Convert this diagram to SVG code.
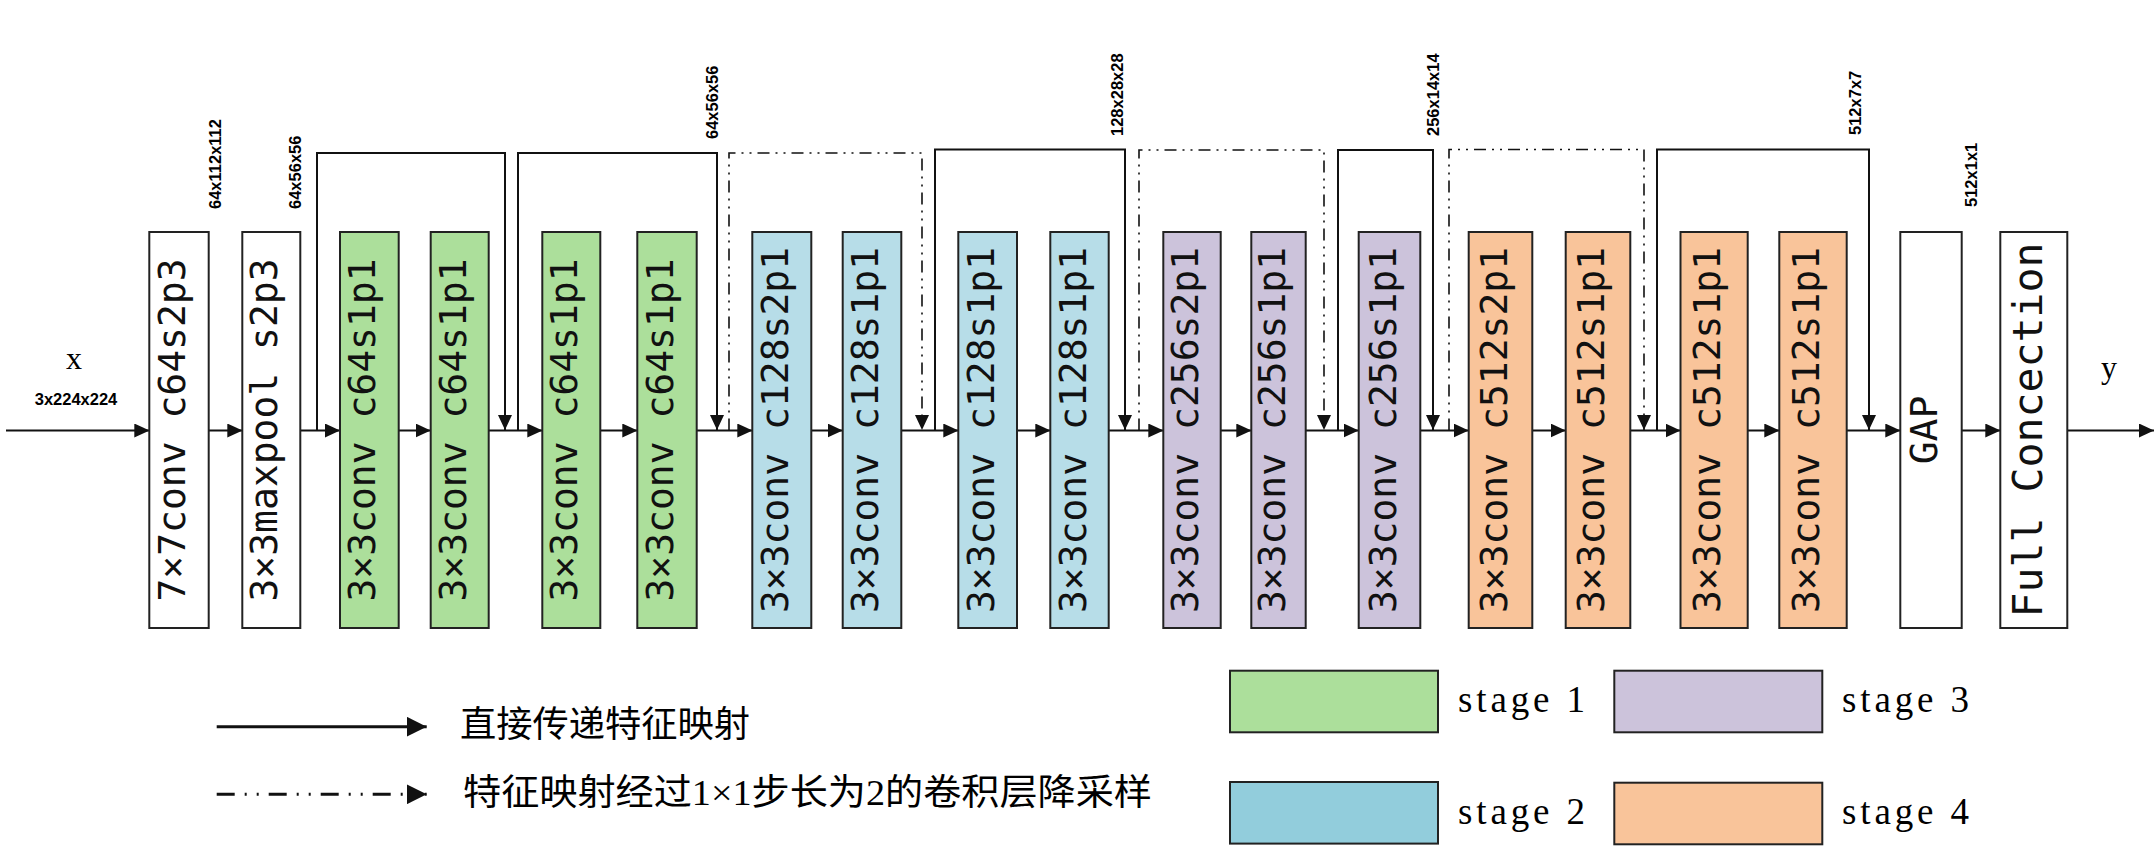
<svg xmlns="http://www.w3.org/2000/svg" width="2156" height="860" viewBox="0 0 2156 860">
<style>
.box{stroke:#222;stroke-width:2}
.w{fill:#fff}.g{fill:#ACDF9B}.b{fill:#B7DDE8}.p{fill:#CCC3DB}.o{fill:#F9C49A}.b2{fill:#92CDDC}
.bt{font-family:"DejaVu Sans Mono",monospace;font-size:38px;fill:#111;text-anchor:middle}
.dim{font-family:"Liberation Sans",Arial,sans-serif;font-weight:bold;font-size:16.5px;fill:#000}
.ln{fill:none;stroke:#111;stroke-width:2}
.ds{fill:none;stroke:#111;stroke-width:1.6;stroke-dasharray:12 6 2 6 2 6}
.io{font-family:"Liberation Serif",serif;font-size:32px;fill:#000;text-anchor:middle}
.cn{font-family:"Liberation Serif","Noto Sans CJK SC",serif;font-size:36px;fill:#000}
.st{font-family:"Liberation Serif",serif;font-size:37px;fill:#000}
</style>
<defs>
<marker id="ah" markerUnits="userSpaceOnUse" markerWidth="15" markerHeight="14" refX="15" refY="7" orient="auto"><path d="M0,0 L15,7 L0,14 z" fill="#111"/></marker>
<marker id="ahL" markerUnits="userSpaceOnUse" markerWidth="20" markerHeight="20" refX="20" refY="10" orient="auto"><path d="M0,0 L20,10 L0,20 z" fill="#111"/></marker>
</defs>
<rect width="2156" height="860" fill="#fff"/>

<g id="connectors">
<path class="ln" marker-end="url(#ah)" d="M6,430.5 H149.3"/>
<path class="ln" marker-end="url(#ah)" d="M208.7,430.5 H242.3"/>
<path class="ln" marker-end="url(#ah)" d="M300.3,430.5 H340"/>
<path class="ln" marker-end="url(#ah)" d="M398.7,430.5 H430.7"/>
<path class="ln" marker-end="url(#ah)" d="M488.7,430.5 H542.3"/>
<path class="ln" marker-end="url(#ah)" d="M600.3,430.5 H637.3"/>
<path class="ln" marker-end="url(#ah)" d="M696.7,430.5 H752.3"/>
<path class="ln" marker-end="url(#ah)" d="M811.3,430.5 H842.7"/>
<path class="ln" marker-end="url(#ah)" d="M901.3,430.5 H958.3"/>
<path class="ln" marker-end="url(#ah)" d="M1017,430.5 H1050.3"/>
<path class="ln" marker-end="url(#ah)" d="M1108.7,430.5 H1163.3"/>
<path class="ln" marker-end="url(#ah)" d="M1220.7,430.5 H1251.3"/>
<path class="ln" marker-end="url(#ah)" d="M1305.7,430.5 H1358.7"/>
<path class="ln" marker-end="url(#ah)" d="M1420.3,430.5 H1468.7"/>
<path class="ln" marker-end="url(#ah)" d="M1532.3,430.5 H1565.7"/>
<path class="ln" marker-end="url(#ah)" d="M1630.3,430.5 H1680.5"/>
<path class="ln" marker-end="url(#ah)" d="M1747.7,430.5 H1779.3"/>
<path class="ln" marker-end="url(#ah)" d="M1846.7,430.5 H1900.3"/>
<path class="ln" marker-end="url(#ah)" d="M1961.7,430.5 H2000.3"/>
<path class="ln" marker-end="url(#ah)" d="M2067.3,430.5 H2154"/>
<path class="ln" marker-end="url(#ah)" d="M317,430.5 V153 H505 V430"/>
<path class="ln" marker-end="url(#ah)" d="M518,430.5 V153 H717 V430"/>
<path class="ds" marker-end="url(#ah)" d="M729,430.5 V153 H922 V430"/>
<path class="ln" marker-end="url(#ah)" d="M935,430.5 V149.5 H1125 V430"/>
<path class="ds" marker-end="url(#ah)" d="M1139,430.5 V150 H1324 V430"/>
<path class="ln" marker-end="url(#ah)" d="M1338,430.5 V150 H1433 V430"/>
<path class="ds" marker-end="url(#ah)" d="M1449,430.5 V149.5 H1644 V430"/>
<path class="ln" marker-end="url(#ah)" d="M1657,430.5 V149.5 H1869 V430"/>
</g>

<g id="n1"><rect class="box w" x="149.3" y="232" width="59.4" height="396"/><text class="bt" transform="translate(185,430) rotate(-90)">7×7conv c64s2p3</text></g>
<g id="n2"><rect class="box w" x="242.3" y="232" width="58" height="396"/><text class="bt" transform="translate(277.3,430) rotate(-90)">3×3maxpool s2p3</text></g>
<g id="n3"><rect class="box g" x="340" y="232" width="58.7" height="396"/><text class="bt" transform="translate(375.3,430) rotate(-90)">3×3conv c64s1p1</text></g>
<g id="n4"><rect class="box g" x="430.7" y="232" width="58" height="396"/><text class="bt" transform="translate(465.7,430) rotate(-90)">3×3conv c64s1p1</text></g>
<g id="n5"><rect class="box g" x="542.3" y="232" width="58" height="396"/><text class="bt" transform="translate(577.3,430) rotate(-90)">3×3conv c64s1p1</text></g>
<g id="n6"><rect class="box g" x="637.3" y="232" width="59.4" height="396"/><text class="bt" transform="translate(673,430) rotate(-90)">3×3conv c64s1p1</text></g>
<g id="n7"><rect class="box b" x="752.3" y="232" width="59" height="396"/><text class="bt" transform="translate(787.8,430) rotate(-90)">3×3conv c128s2p1</text></g>
<g id="n8"><rect class="box b" x="842.7" y="232" width="58.6" height="396"/><text class="bt" transform="translate(878,430) rotate(-90)">3×3conv c128s1p1</text></g>
<g id="n9"><rect class="box b" x="958.3" y="232" width="58.7" height="396"/><text class="bt" transform="translate(993.6,430) rotate(-90)">3×3conv c128s1p1</text></g>
<g id="n10"><rect class="box b" x="1050.3" y="232" width="58.4" height="396"/><text class="bt" transform="translate(1085.5,430) rotate(-90)">3×3conv c128s1p1</text></g>
<g id="n11"><rect class="box p" x="1163.3" y="232" width="57.4" height="396"/><text class="bt" transform="translate(1198,430) rotate(-90)">3×3conv c256s2p1</text></g>
<g id="n12"><rect class="box p" x="1251.3" y="232" width="54.4" height="396"/><text class="bt" transform="translate(1284.5,430) rotate(-90)">3×3conv c256s1p1</text></g>
<g id="n13"><rect class="box p" x="1358.7" y="232" width="61.6" height="396"/><text class="bt" transform="translate(1395.5,430) rotate(-90)">3×3conv c256s1p1</text></g>
<g id="n14"><rect class="box o" x="1468.7" y="232" width="63.6" height="396"/><text class="bt" transform="translate(1506.5,430) rotate(-90)">3×3conv c512s2p1</text></g>
<g id="n15"><rect class="box o" x="1565.7" y="232" width="64.6" height="396"/><text class="bt" transform="translate(1604,430) rotate(-90)">3×3conv c512s1p1</text></g>
<g id="n16"><rect class="box o" x="1680.5" y="232" width="67.2" height="396"/><text class="bt" transform="translate(1720,430) rotate(-90)">3×3conv c512s1p1</text></g>
<g id="n17"><rect class="box o" x="1779.3" y="232" width="67.4" height="396"/><text class="bt" transform="translate(1819,430) rotate(-90)">3×3conv c512s1p1</text></g>
<g id="n18"><rect class="box w" x="1900.3" y="232" width="61.4" height="396"/><text class="bt" transform="translate(1937,430) rotate(-90)">GAP</text></g>
<g id="n19"><rect class="box w" x="2000.3" y="232" width="67" height="396"/><text class="bt" style="font-size:41.5px" transform="translate(2042,430) rotate(-90)">Full Concection</text></g>

<g id="labels">
<text class="io" x="74" y="369">x</text>
<text class="dim" x="76" y="405" text-anchor="middle">3x224x224</text>
<text class="io" x="2109" y="378">y</text>
<text class="dim" transform="translate(221,209) rotate(-90)">64x112x112</text>
<text class="dim" transform="translate(301,209) rotate(-90)">64x56x56</text>
<text class="dim" transform="translate(718,139) rotate(-90)">64x56x56</text>
<text class="dim" transform="translate(1123,136) rotate(-90)">128x28x28</text>
<text class="dim" transform="translate(1439,136) rotate(-90)">256x14x14</text>
<text class="dim" transform="translate(1861,135) rotate(-90)">512x7x7</text>
<text class="dim" transform="translate(1977,207) rotate(-90)">512x1x1</text>
</g>

<g id="legend">
<path fill="none" stroke="#111" stroke-width="3" marker-end="url(#ahL)" d="M216.7,726.7 H426.7"/>
<path fill="none" stroke="#111" stroke-width="3" stroke-dasharray="18 10 2 10 2 10" marker-end="url(#ahL)" d="M216.7,794.3 H426.7"/>
<text class="cn" x="460" y="737" textLength="290" lengthAdjust="spacingAndGlyphs">直接传递特征映射</text>
<text class="cn" x="463" y="805" textLength="689" lengthAdjust="spacingAndGlyphs">特征映射经过1×1步长为2的卷积层降采样</text>
<rect class="box g" x="1230" y="670.7" width="208" height="61.6"/>
<rect class="box b2" x="1230" y="782" width="208" height="61.6"/>
<rect class="box p" x="1614.3" y="670.7" width="208" height="61.6"/>
<rect class="box o" x="1614.3" y="782.7" width="208" height="61.6"/>
<text class="st" x="1458" y="712" textLength="127" lengthAdjust="spacing">stage 1</text>
<text class="st" x="1458" y="824" textLength="127" lengthAdjust="spacing">stage 2</text>
<text class="st" x="1842" y="712" textLength="127" lengthAdjust="spacing">stage 3</text>
<text class="st" x="1842" y="824" textLength="127" lengthAdjust="spacing">stage 4</text>
</g>
</svg>
